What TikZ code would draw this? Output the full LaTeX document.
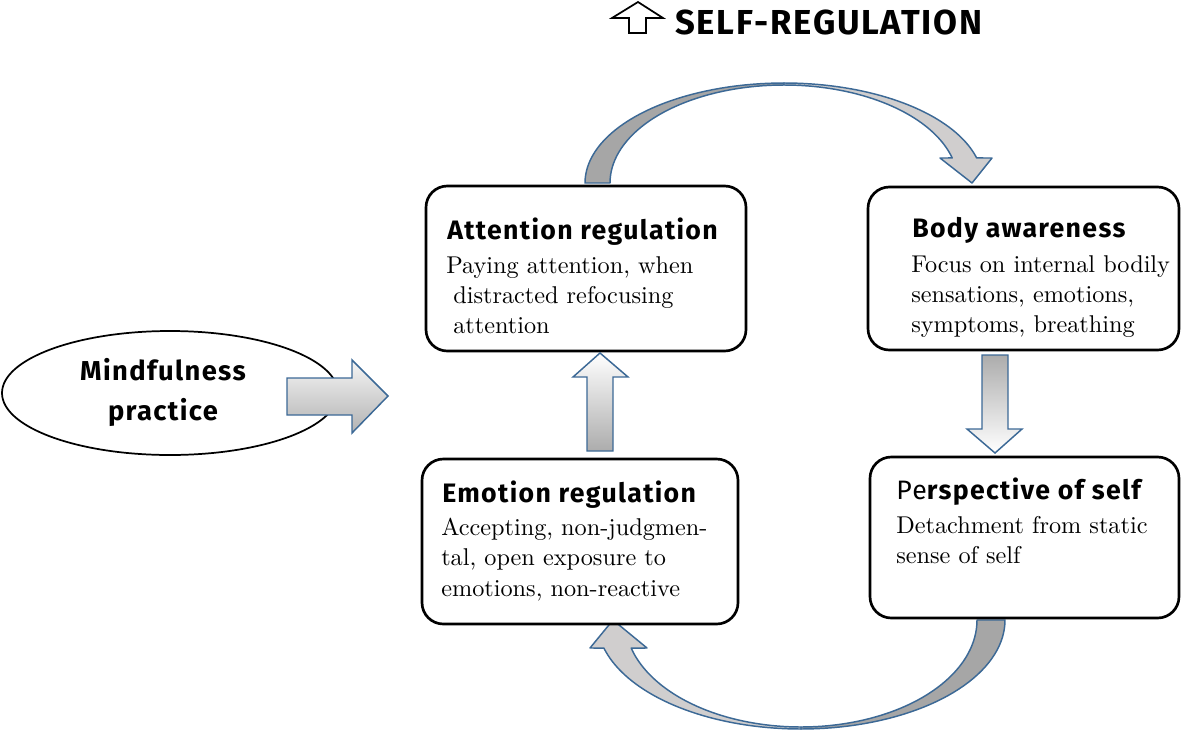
\documentclass[tikz,border=0pt]{standalone}
\usepackage{fontspec}
\setmainfont{lmroman10-regular}[Extension=.otf]
\newfontfamily\hfont{Fira Sans}[LetterSpace=5]
\usetikzlibrary{shapes.geometric}
\definecolor{arrblue}{RGB}{60,105,150}
\definecolor{darkband}{RGB}{166,166,166}
\definecolor{lightband}{RGB}{208,206,206}
\tikzset{
  box/.style={draw, line width=2pt, rounded corners=16pt, fill=white, inner sep=0pt},
  headtxt/.style={font=\hfont\bfseries\fontsize{20}{24}\selectfont, anchor=base west, inner sep=0pt},
  bodytxt/.style={font=\fontsize{18.2}{22.5}\selectfont, anchor=base west, inner sep=0pt},
  band/.style={draw=arrblue, line width=1.1pt, line join=round},
  blockarrow/.style={draw=arrblue, line width=1.1pt, line join=miter},
}
\begin{document}
\begin{tikzpicture}[x=0.75pt, y=-0.75pt]
\useasboundingbox (0,0) rectangle (1181,732);

% title
\draw[line width=1.3pt, fill=white] (638,2) -- (663,18) -- (646,18) -- (646,33) -- (629,33) -- (629,18) -- (612,18) -- cycle;
\node[anchor=base west, inner sep=0pt, font=\hfont\bfseries\fontsize{26}{30}\selectfont] (title) at (675,34) {SELF-REGULATION};

% curved arrows
\draw[band, fill=darkband] plot[domain=180:90, samples=40] ({784+199*cos(\x)},{183-100*sin(\x)}) -- plot[domain=90:180, samples=40] ({784+174*cos(\x)},{183-98*sin(\x)}) -- cycle;
\draw[band, fill=lightband] plot[domain=90:14.5, samples=40] ({784+199*cos(\x)},{183-100*sin(\x)}) -- (992,158) -- (972,183) -- (940,158) -- plot[domain=14.8:90, samples=40] ({784+174*cos(\x)},{183-98*sin(\x)}) -- cycle;

\draw[band, fill=darkband] plot[domain=0:90, samples=40] ({801+204*cos(\x)},{620+109*sin(\x)}) -- plot[domain=90:0, samples=40] ({801+176*cos(\x)},{620+107*sin(\x)}) -- cycle;
\draw[band, fill=lightband] plot[domain=90:165.1, samples=40] ({801+204*cos(\x)},{620+109*sin(\x)}) -- (590,648) -- (613,620) -- (647,648) -- plot[domain=164.8:90, samples=40] ({801+176*cos(\x)},{620+107*sin(\x)}) -- cycle;

% boxes
\node[box, minimum width=320*0.75pt, minimum height=165*0.75pt] (att) at (586,268.5) {};
\node[box, minimum width=311*0.75pt, minimum height=163*0.75pt] (bod) at (1023.5,268.5) {};
\node[box, minimum width=316*0.75pt, minimum height=165*0.75pt] (emo) at (580,541.5) {};
\node[box, minimum width=309*0.75pt, minimum height=161*0.75pt] (per) at (1024.5,537.5) {};

% mindfulness
\node[ellipse, draw, line width=1.3pt, minimum width=336*0.75pt, minimum height=124*0.75pt, inner sep=0pt] (mind) at (170,393) {};
\node[anchor=base, inner sep=0pt, font=\hfont\bfseries\fontsize{20.5}{24}\selectfont] (mind1) at (163,380) {Mindfulness};
\node[anchor=base, inner sep=0pt, font=\hfont\bfseries\fontsize{20.5}{24}\selectfont] (mind2) at (163,420) {practice};

% straight block arrows
\shade[top color=gray!8, bottom color=gray!60, blockarrow] (287,378) -- (352,378) -- (352,360) -- (388,396) -- (352,433) -- (352,415) -- (287,415) -- cycle;
\shade[top color=white, bottom color=gray!65, blockarrow] (600,353) -- (628,377) -- (613,377) -- (613,451) -- (587,451) -- (587,377) -- (573,377) -- cycle;
\shade[top color=gray!65, bottom color=white, blockarrow] (982,355) -- (1008,355) -- (1008,429) -- (1022,429) -- (995,453) -- (967,429) -- (982,429) -- cycle;

% texts
\node[headtxt] (atth) at (447,239) {Attention regulation};
\node[bodytxt] (att1) at (446,273) {Paying attention, when};
\node[bodytxt] (att2) at (453,303) {distracted refocusing};
\node[bodytxt] (att3) at (453,333) {attention};

\node[headtxt] (bodh) at (912,237) {Body awareness};
\node[bodytxt] (bod1) at (911,272) {Focus on internal bodily};
\node[bodytxt] (bod2) at (911,302) {sensations, emotions,};
\node[bodytxt] (bod3) at (911,332) {symptoms, breathing};

\node[headtxt] (emoh) at (442,502) {Emotion regulation};
\node[bodytxt] (emo1) at (441,535) {Accepting, non-judgmen-};
\node[bodytxt] (emo2) at (441,565) {tal, open exposure to};
\node[bodytxt] (emo3) at (441,596) {emotions, non-reactive};

\node[headtxt] (perh) at (896,499) {{\mdseries Pe}rspective of self};
\node[bodytxt] (per1) at (896,533) {Detachment from static};
\node[bodytxt] (per2) at (896,563) {sense of self};
\end{tikzpicture}
\end{document}
